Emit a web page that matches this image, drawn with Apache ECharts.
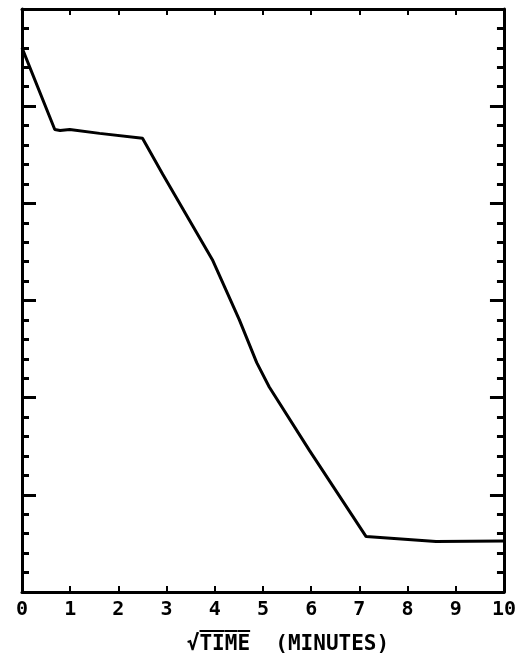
<!DOCTYPE html>
<html>
<head>
<meta charset="utf-8">
<script src="https://cdn.jsdelivr.net/npm/echarts@6/dist/echarts.min.js"></script>
<style>html,body{margin:0;padding:0;background:#fff;}#c{width:519px;height:660px;}</style>
</head>
<body>
<div id="c"></div>
<script>
var xValues = [0, 0.68, 0.79, 0.99, 1.61, 2.5, 2.92, 3.95, 4.51, 4.87, 5.13, 5.96, 7.14, 8.59, 10];
var yValues = [28.0, 23.8, 23.75, 23.8, 23.6, 23.35, 21.5, 17.1, 14.0, 11.8, 10.55, 7.3, 2.85, 2.6, 2.62];
var xTickLabels = ['0','1','2','3','4','5','6','7','8','9','10'];
var xTitle = '\u221AT\u0305I\u0305M\u0305E\u0305  (MINUTES)';

var data = xValues.map(function (x, i) { return [x, yValues[i]]; });
var font = 'DejaVu Sans Mono';
var axisLine = { show: true, onZero: false, lineStyle: { color: '#000', width: 3 } };
var chart = echarts.init(document.getElementById('c'), null, { renderer: 'canvas' });
chart.setOption({
  animation: false,
  backgroundColor: '#fff',
  grid: { left: 22, right: 14, top: 9, bottom: 68, containLabel: false },
  xAxis: [{
    type: 'value', min: 0, max: 10, interval: 1, position: 'bottom',
    axisLine: axisLine,
    axisTick: { show: true, inside: true, length: 6, lineStyle: { color: '#000', width: 2 } },
    axisLabel: { show: true, margin: 8, color: '#000', fontFamily: font, fontWeight: 'bold', fontSize: 20,
      formatter: function (v) { return xTickLabels[Math.round(v)]; } },
    splitLine: { show: false },
    name: xTitle, nameLocation: 'middle', nameGap: 42,
    nameTextStyle: { color: '#000', fontFamily: font, fontWeight: 'bold', fontSize: 21, padding: [0, 0, 0, 50] }
  }, {
    type: 'value', min: 0, max: 10, interval: 1, position: 'top',
    axisLine: axisLine,
    axisTick: { show: true, inside: true, length: 6, lineStyle: { color: '#000', width: 2 } },
    axisLabel: { show: false }, splitLine: { show: false }
  }],
  yAxis: [{
    type: 'value', min: 0, max: 30, interval: 5, position: 'left',
    axisLine: axisLine,
    axisTick: { show: true, inside: true, length: 14, lineStyle: { color: '#000', width: 3 } },
    minorTick: { show: true, splitNumber: 5, length: 7, lineStyle: { color: '#000', width: 3 } },
    axisLabel: { show: false }, splitLine: { show: false }, minorSplitLine: { show: false }
  }, {
    type: 'value', min: 0, max: 30, interval: 5, position: 'right',
    axisLine: axisLine,
    axisTick: { show: true, inside: true, length: 14, lineStyle: { color: '#000', width: 3 } },
    minorTick: { show: true, splitNumber: 5, length: 7, lineStyle: { color: '#000', width: 3 } },
    axisLabel: { show: false }, splitLine: { show: false }, minorSplitLine: { show: false }
  }],
  series: [{
    type: 'line', xAxisIndex: 0, yAxisIndex: 0, data: data,
    showSymbol: false, symbol: 'none',
    lineStyle: { color: '#000', width: 3 }
  }]
});
</script>
</body>
</html>
